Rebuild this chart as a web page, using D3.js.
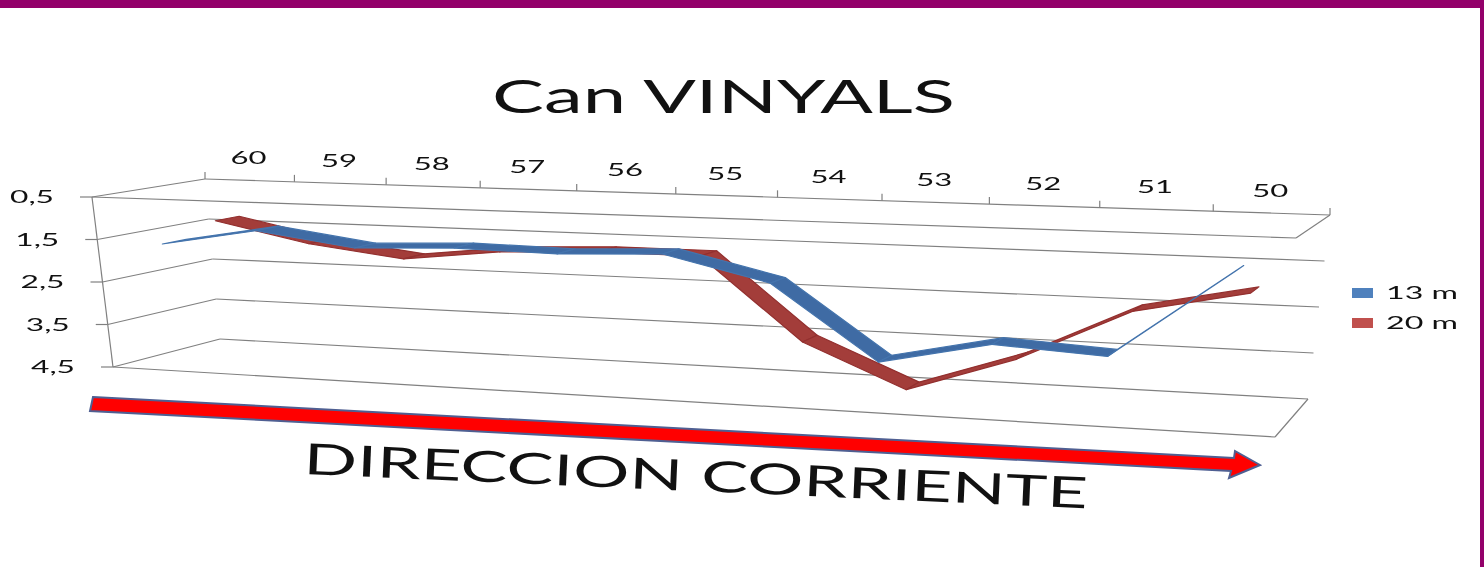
<!DOCTYPE html>
<html><head><meta charset="utf-8">
<script src="https://cdnjs.cloudflare.com/ajax/libs/d3/7.8.5/d3.min.js"></script>
<style>html,body{margin:0;padding:0;background:#fff;overflow:hidden}svg{display:block;filter:blur(0.4px)}text{font-family:Lato,"Open Sans",sans-serif;fill:#111}</style>
</head><body><svg id="c" width="1484" height="567"></svg>
<script>
const categories = ["60","59","58","57","56","55","54","53","52","51","50"];
const valueTicks = [0.5,1.5,2.5,3.5,4.5];
const tickLabels = ["0,5","1,5","2,5","3,5","4,5"];
const values13m = [1.64,1.24,1.55,1.46,1.50,1.41,1.95,3.54,3.04,3.17,1.30];
const values20m = [1.33,1.80,2.07,1.81,1.72,1.72,3.56,4.50,3.70,2.54,2.04];
const seriesNames = ["13 m","20 m"];
const title = "Can VINYALS";
const note = "DIRECCION CORRIENTE";

const svg = d3.select("#c");
const GRID = "#808080";

// projection of the Excel-style 3D box
const box = {
  backTop:[[205,179],[1330,215]], backBottom:[[220,339],[1308,399]],
  frontTop:[[92,197],[1296,238]], frontBottom:[[113,367],[1275,437]]
};
const w = 1.158;
const xBand = d3.scaleBand().domain(categories).range([0,1]);
const persp = t => t/(t+w*(1-t));
const yScale = d3.scaleLinear().domain([0.5,4.5]).range([0,1]);
const mix = (a,b,k)=>[a[0]+(b[0]-a[0])*k,a[1]+(b[1]-a[1])*k];
function project(t,v,d){
  const s = persp(t), u = yScale(v);
  const back = mix(mix(box.backTop[0],box.backTop[1],s),mix(box.backBottom[0],box.backBottom[1],s),u);
  const front = mix(mix(box.frontTop[0],box.frontTop[1],s),mix(box.frontBottom[0],box.frontBottom[1],s),u);
  return mix(front,back,d);
}
const line = d3.line();
const seg = (pts,stroke,sw)=>svg.append("path").attr("d",line(pts)).attr("fill","none").attr("stroke",stroke||GRID).attr("stroke-width",sw||1.2);

// frame band
svg.append("rect").attr("x",0).attr("y",0).attr("width",1484).attr("height",8).attr("fill","#93006a");
svg.append("rect").attr("x",1480).attr("y",0).attr("width",4).attr("height",567).attr("fill","#93006a");

// walls and gridlines
valueTicks.forEach((v,i)=>{
  const f0=project(0,v,0), b0=project(0,v,1), b1=project(1,v,1);
  seg([f0,b0]); seg([b0,b1]);
  seg([[f0[0]-12,f0[1]],f0]);
  svg.append("text").attr("x",f0[0]-82).attr("y",f0[1]).attr("dy","0.36em")
    .attr("font-size",17).attr("textLength",44)
    .attr("lengthAdjust","spacingAndGlyphs").text(tickLabels[i]);
});
[0.5,4.5].forEach(v=>{
  seg([project(0,v,0),project(1,v,0)]);
  seg([project(1,v,0),project(1,v,1)]);
});
seg([project(0,0.5,0),project(0,4.5,0)]);

// category ticks and labels on the back top edge
d3.range(categories.length+1).forEach(i=>{
  const p=project(i*xBand.step(),0.5,1);
  seg([p,[p[0],p[1]-7]]);
});
categories.forEach(c=>{
  const p=project(xBand(c)+xBand.bandwidth()/2,0.5,1);
  svg.append("text").attr("x",p[0]-19).attr("y",p[1]-16)
    .attr("font-size",17).attr("textLength",36).attr("lengthAdjust","spacingAndGlyphs").text(c);
});

// ribbons
function ribbon(values,d0,d1,fill,stroke){
  const pts=categories.map((c,i)=>[xBand(c)+xBand.bandwidth()/2,values[i]]);
  d3.pairs(pts).forEach(([a,b])=>{
    const poly=[project(a[0],a[1],d0),project(b[0],b[1],d0),project(b[0],b[1],d1),project(a[0],a[1],d1)];
    svg.append("path").attr("d",line(poly)+"Z").attr("fill",fill).attr("stroke",stroke).attr("stroke-width",1.2).attr("stroke-linejoin","round");
  });
}
ribbon(values20m,0.66,0.88,"#a33d3a","#93302f");
ribbon(values13m,0.16,0.38,"#3f6ba4","#4474ad");

// arrow
svg.append("path").attr("d",line([[93,397],[1234,458],[1235,451],[1260,465],[1229,478],[1231,471],[90,411]])+"Z")
  .attr("fill","#ff0000").attr("stroke","#4f5f92").attr("stroke-width",2).attr("stroke-linejoin","miter");

// title and annotation
svg.append("text").attr("x",492).attr("y",113).attr("font-size",47)
  .attr("textLength",463).attr("lengthAdjust","spacingAndGlyphs").text(title);
svg.append("text").attr("transform","translate(303,474) rotate(2.5)").attr("font-size",43)
  .attr("textLength",785).attr("lengthAdjust","spacingAndGlyphs").text(note);

// legend
[["#4f81bd",288],["#c0504d",318]].forEach(([col,y],i)=>{
  svg.append("rect").attr("x",1352).attr("y",y).attr("width",21).attr("height",10).attr("fill",col);
  svg.append("text").attr("x",1386).attr("y",y+11).attr("font-size",17).attr("textLength",72)
    .attr("lengthAdjust","spacingAndGlyphs").text(seriesNames[i]);
});
</script></body></html>
